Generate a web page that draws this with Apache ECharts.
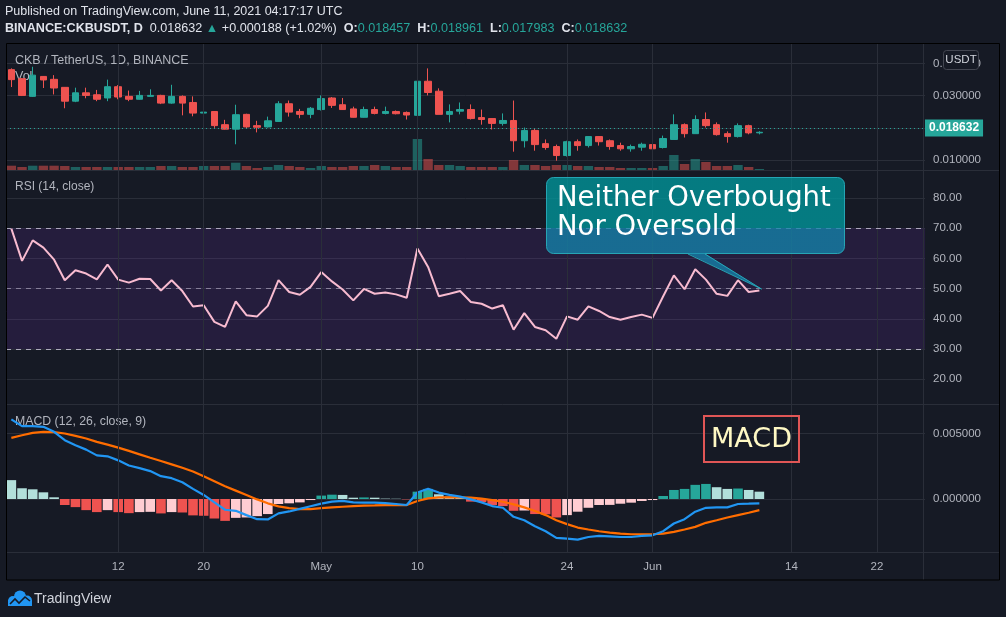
<!DOCTYPE html>
<html><head><meta charset="utf-8">
<script src="https://cdn.jsdelivr.net/npm/echarts/dist/echarts.min.js"></script>
<style>html,body{margin:0;padding:0;background:#161a25;}#c{width:1006px;height:617px;}</style>
</head><body><div id="c"></div><script>
// ---------- data ----------
const startDate = [2021, 3, 2];           // 2021-04-02 (UTC)
const dayCount = 86;                      // visible days on the time scale
const tickLabels = [['2021-04-12','12'],['2021-04-20','20'],['2021-05-01','May'],['2021-05-10','10'],
                    ['2021-05-24','24'],['2021-06-01','Jun'],['2021-06-14','14'],['2021-06-22','22']];
const open  = [0.0381,0.0353,0.0298,0.0360,0.0351,0.0326,0.0283,0.0309,0.0303,0.0293,
               0.0328,0.0298,0.0289,0.0298,0.0301,0.0277,0.0298,0.0279,0.0246,0.0251,
               0.0210,0.0196,0.0242,0.0207,0.0203,0.0220,0.0275,0.0251,0.0242,0.0257,
               0.0293,0.0272,0.0259,0.0233,0.0257,0.0245,0.0251,0.0248,0.0239,0.0345,
               0.0314,0.0242,0.0252,0.0257,0.0232,0.0229,0.0214,0.0223,0.0160,0.0192,
               0.0151,0.0142,0.0114,0.0157,0.0145,0.0173,0.0160,0.0145,0.0135,0.0140,
               0.0148,0.0139,0.0164,0.0210,0.0182,0.0226,0.0210,0.0182,0.0173,0.0207,0.018457];
const close = [0.0350,0.0301,0.0364,0.0349,0.0324,0.0283,0.0309,0.0301,0.0289,0.0328,
               0.0296,0.0289,0.0301,0.0301,0.0277,0.0298,0.0277,0.0246,0.0249,0.0207,
               0.0196,0.0241,0.0203,0.0202,0.0222,0.0275,0.0249,0.0242,0.0261,0.0291,
               0.0270,0.0257,0.0233,0.0257,0.0245,0.0251,0.0244,0.0240,0.0345,0.0310,
               0.0242,0.0251,0.0257,0.0229,0.0226,0.0214,0.0223,0.0160,0.0192,0.0148,
               0.0139,0.0114,0.0157,0.0145,0.0173,0.0157,0.0142,0.0135,0.0142,0.0149,
               0.0135,0.0167,0.0210,0.0182,0.0226,0.0207,0.0179,0.0173,0.0207,0.018444,0.018632];
const low   = [0.0327,0.0299,0.0296,0.0324,0.0304,0.0261,0.0280,0.0292,0.0283,0.0283,
               0.0289,0.0283,0.0288,0.0297,0.0274,0.0275,0.0239,0.0236,0.0200,0.0200,
               0.0195,0.0149,0.0199,0.0186,0.0201,0.0219,0.0235,0.0230,0.0230,0.0254,
               0.0262,0.0256,0.0232,0.0232,0.0242,0.0242,0.0242,0.0226,0.0227,0.0301,
               0.0242,0.0217,0.0242,0.0226,0.0210,0.0195,0.0207,0.0126,0.0139,0.0129,
               0.0132,0.0098,0.0111,0.0129,0.0139,0.0145,0.0132,0.0129,0.0126,0.0129,
               0.0134,0.0136,0.0164,0.0170,0.0182,0.0201,0.0176,0.0154,0.0170,0.0180,0.017983];
const high  = [0.0385,0.0355,0.0390,0.0361,0.0364,0.0327,0.0325,0.0325,0.0318,0.0350,
               0.0333,0.0316,0.0315,0.0320,0.0303,0.0334,0.0301,0.0298,0.0250,0.0252,
               0.0225,0.0272,0.0244,0.0222,0.0235,0.0283,0.0285,0.0259,0.0265,0.0301,
               0.0296,0.0293,0.0266,0.0266,0.0266,0.0266,0.0254,0.0251,0.0420,0.0385,
               0.0323,0.0273,0.0279,0.0273,0.0257,0.0230,0.0245,0.0285,0.0201,0.0198,
               0.0164,0.0148,0.0160,0.0164,0.0174,0.0174,0.0164,0.0154,0.0148,0.0154,
               0.0149,0.0176,0.0242,0.0214,0.0239,0.0248,0.0217,0.0189,0.0214,0.0210,0.018961];
const volume = [43,30,43,43,43,40,30,30,30,30, 30,30,30,30,40,40,30,30,40,40,
                40,73,40,20,30,50,40,30,20,40, 30,30,40,40,50,40,30,30,310,110,
                50,50,40,30,30,30,30,100,50,50, 40,50,50,40,40,30,30,20,20,20,
                20,40,150,60,110,80,40,40,50,30,10];
const rsi = [69.9,59.2,66,63.6,59.6,52.8,56.1,55,53.1,58, 53,52,53.3,53.2,49.4,52.8,49.2,44.1,44.5,39,
             37.3,45.8,41.2,40.8,44.3,52.8,48.9,48,50.6,55.5, 52.4,49.7,46.1,49.9,48.3,48.7,48.1,47,63.3,57.2,
             47.5,48.3,49.2,45.6,45,43.4,44.5,36.4,41.9,37.3, 36.2,33.4,40.8,39.7,44.1,42.6,40.6,39.7,40.6,41.4,
             40.3,47.5,54.4,49.8,56.4,53,48.3,47.6,52.8,48.9,49.4];
// MACD values in units of 0.001
const macd = [6.08,5.56,5.56,5.51,5.13,4.49,4.10,3.77,3.33,3.26, 2.95,2.56,2.36,2.13,1.74,1.59,1.28,0.77,0.31,-0.26,
              -0.82,-0.90,-1.23,-1.54,-1.56,-1.10,-0.95,-0.75,-0.55,-0.35, -0.20,-0.15,-0.26,-0.28,-0.28,-0.31,-0.38,-0.46,0.50,0.78,
              0.49,0.31,0.18,-0.03,-0.26,-0.54,-0.67,-1.36,-1.62,-2.08, -2.46,-2.97,-3.03,-3.10,-2.90,-2.82,-2.85,-2.90,-2.90,-2.82,
              -2.77,-2.46,-1.87,-1.54,-0.97,-0.67,-0.64,-0.64,-0.38,-0.36,-0.33];
const signal = [4.67,4.87,5.05,5.13,5.10,5.00,4.82,4.62,4.36,4.15, 3.92,3.67,3.41,3.15,2.90,2.64,2.38,2.10,1.74,1.36,
                0.97,0.64,0.31,-0.03,-0.33,-0.56,-0.69,-0.77,-0.77,-0.69, -0.64,-0.59,-0.54,-0.51,-0.49,-0.46,-0.46,-0.46,-0.15,0.05,
                0.13,0.13,0.13,0.10,0.03,-0.08,-0.21,-0.41,-0.64,-0.92, -1.23,-1.62,-1.92,-2.18,-2.33,-2.46,-2.56,-2.64,-2.69,-2.69,
                -2.69,-2.64,-2.51,-2.33,-2.13,-1.82,-1.62,-1.41,-1.23,-1.05,-0.85];
const hist = [1.44,0.82,0.74,0.51,0.13,-0.46,-0.62,-0.85,-1.00,-0.85, -1.00,-1.08,-1.00,-0.98,-1.10,-1.00,-1.03,-1.25,-1.28,-1.49,
              -1.67,-1.44,-1.41,-1.31,-1.15,-0.38,-0.33,-0.26,-0.08,0.26, 0.33,0.31,0.10,0.12,0.10,0.03,0.02,-0.03,0.56,0.77,
              0.36,0.18,0.13,-0.20,-0.23,-0.46,-0.54,-0.90,-0.88,-1.15, -1.17,-1.41,-1.23,-0.97,-0.67,-0.46,-0.45,-0.36,-0.28,-0.15,
              -0.08,0.23,0.69,0.77,1.08,1.15,0.90,0.77,0.80,0.69,0.56];
const lastPrice = 0.018632;
const rsiLevels = [70, 50, 30];

// ---------- derived ----------
const dates = [];
(function(){ const d0 = Date.UTC(startDate[0], startDate[1], startDate[2]);
  for (let i = 0; i < dayCount; i++) dates.push(new Date(d0 + i*864e5).toISOString().slice(0,10)); })();
const tickMap = new Map(tickLabels);
const candleData = open.map((o,i)=>[o, close[i], low[i], high[i]]);
const volData = volume.map((v,i)=>({value:v, itemStyle:{color: close[i]>=open[i] ? 'rgba(38,166,154,0.5)' : 'rgba(239,83,80,0.5)'}}));
const histData = hist.map((h,i)=>{ const p = i>0 ? hist[i-1] : h+1; let c;
  if (h >= 0) c = h > p ? '#26a69a' : '#b2dfdb'; else c = h < p ? '#ef5350' : '#ffcdd2';
  return {value: h/1000, itemStyle:{color:c}}; });

const BG = '#161a25', GRID = '#2a2e39', TXT = '#b2b5be';
const L = 6, W = 919;
const fmt6 = v => Math.abs(v) < 1e-12 ? '0.000000' : v.toFixed(6);
const hiddenX = i => ({type:'category', gridIndex:i, data:dates, boundaryGap:true, show:false});
const valueY = (i, min, max, interval, f) => ({type:'value', gridIndex:i, position:'right', min, max, interval,
  axisLine:{show:false}, axisTick:{show:false},
  axisLabel:{color:TXT, fontSize:11.5, margin:8, formatter:f, showMinLabel:false, showMaxLabel:false},
  splitLine:{show:true, showMinLine:false, showMaxLine:false, lineStyle:{color:GRID, width:1}}});

const chart = echarts.init(document.getElementById('c'), null, {renderer:'canvas'});
chart.setOption({
  animation:false,
  backgroundColor:BG,
  textStyle:{fontFamily:'Liberation Sans'},
  grid:[
    {left:L, width:W, top:44, height:508},
    {left:L, width:W, top:31.4, height:160.8},
    {left:L, width:W, top:45, height:125},
    {left:L, width:W, top:167.95, height:241.4},
    {left:L, width:W, top:368, height:196.5}
  ],
  xAxis:[
    {type:'category', gridIndex:0, data:dates, boundaryGap:true,
     axisLine:{show:false}, axisTick:{show:false}, splitLine:{show:false},
     axisLabel:{color:TXT, fontSize:11.5, margin:9, interval:(idx,val)=>tickMap.has(val), formatter:v=>tickMap.get(v)||''}},
    hiddenX(1), hiddenX(2), hiddenX(3), hiddenX(4)
  ],
  yAxis:[
    {type:'value', gridIndex:0, show:false, min:0, max:1},
    valueY(1, 0, 0.05, 0.01, fmt6),
    {type:'value', gridIndex:2, show:false, min:0, max:1250},
    valueY(3, 10, 90, 10, v=>v.toFixed(2)),
    valueY(4, -0.005, 0.01, 0.005, fmt6)
  ],
  series:[
    {type:'line', xAxisIndex:0, yAxisIndex:0, data:dates.map(()=>0.5), showSymbol:false, silent:true,
     lineStyle:{opacity:0}, z:0,
     markLine:{silent:true, symbol:['none','none'], label:{show:false},
       lineStyle:{color:GRID, type:'solid', width:1},
       data: tickLabels.map(t=>({xAxis:t[0]}))}},
    {type:'bar', xAxisIndex:2, yAxisIndex:2, data:volData, barWidth:'88%', z:1, silent:true},
    {type:'candlestick', xAxisIndex:1, yAxisIndex:1, data:candleData, barWidth:7, z:3,
     itemStyle:{color:'#26a69a', color0:'#ef5350', borderColor:'#26a69a', borderColor0:'#ef5350', borderWidth:1},
     markLine:{silent:true, symbol:['none','none'],
       lineStyle:{color:'#26a69a', type:[1,3], width:1},
       label:{show:true, position:'end', distance:0, formatter:()=>lastPrice.toFixed(6),
              backgroundColor:'#26a69a', color:'#ffffff', fontWeight:'bold', fontSize:12, padding:[3,4,2,4]},
       data:[{yAxis:lastPrice}]}},
    {type:'line', xAxisIndex:3, yAxisIndex:3, data:rsi, showSymbol:false, z:3,
     lineStyle:{color:'#f8bbd0', width:2}, itemStyle:{color:'#f8bbd0'},
     markArea:{silent:true, itemStyle:{color:'rgba(130,50,200,0.15)'}, data:[[{yAxis:30},{yAxis:70}]]},
     markLine:{silent:true, symbol:['none','none'], label:{show:false},
       data: rsiLevels.map(v=>({yAxis:v, lineStyle:{color: v===50 ? 'rgba(200,195,215,0.55)' : 'rgba(205,200,220,0.8)', type:[5,5], width:1}}))}},
    {type:'bar', xAxisIndex:4, yAxisIndex:4, data:histData, barWidth:'90%', z:2, silent:true},
    {type:'line', xAxisIndex:4, yAxisIndex:4, data:signal.map(v=>v/1000), showSymbol:false, z:3,
     lineStyle:{color:'#ff6d00', width:2.2}},
    {type:'line', xAxisIndex:4, yAxisIndex:4, data:macd.map(v=>v/1000), showSymbol:false, z:4,
     lineStyle:{color:'#2196f3', width:2.2}}
  ],
  graphic:[
    {type:'text', x:5, y:12, z:50, style:{text:'Published on TradingView.com, June 11, 2021 04:17:17 UTC',
      fill:'#e0e3eb', fontSize:12.5, fontFamily:'Liberation Sans', verticalAlign:'middle'}},
    {type:'text', x:5, y:29, z:50, style:{
      text:'{b|BINANCE:CKBUSDT, D}{n|  0.018632 }{t|▲}{n| +0.000188 (+1.02%)  }{b|O:}{t|0.018457}{b|  H:}{t|0.018961}{b|  L:}{t|0.017983}{b|  C:}{t|0.018632}',
      verticalAlign:'middle', fontSize:12.6, fontFamily:'Liberation Sans',
      rich:{b:{fill:'#e0e3eb', fontWeight:'bold', fontSize:12.6, fontFamily:'Liberation Sans'},
            n:{fill:'#e0e3eb', fontSize:12.6, fontFamily:'Liberation Sans'},
            t:{fill:'#26a69a', fontSize:12.6, fontFamily:'Liberation Sans'}}}},
    // pane separators and frame
    {type:'line', z:40, shape:{x1:6, y1:170.5, x2:999, y2:170.5}, style:{stroke:GRID, lineWidth:1}},
    {type:'line', z:40, shape:{x1:6, y1:404.5, x2:999, y2:404.5}, style:{stroke:GRID, lineWidth:1}},
    {type:'line', z:40, shape:{x1:6, y1:552.5, x2:999, y2:552.5}, style:{stroke:GRID, lineWidth:1}},
    {type:'line', z:40, shape:{x1:923.5, y1:43, x2:923.5, y2:580}, style:{stroke:GRID, lineWidth:1}},
    {type:'rect', z:41, shape:{x:6.5, y:43.5, width:993, height:536.5}, style:{fill:'none', stroke:'#000000', lineWidth:1}},
    // pane titles
    {type:'text', x:15, y:61, z:1, style:{text:'CKB / TetherUS, 1D, BINANCE', fill:'#b2b5be', fontSize:12.5, fontFamily:'Liberation Sans', verticalAlign:'middle'}},
    {type:'text', x:15, y:77, z:1, style:{text:'Vol', fill:'#b2b5be', fontSize:12.5, fontFamily:'Liberation Sans', verticalAlign:'middle'}},
    {type:'text', x:15, y:187, z:1, style:{text:'RSI (14, close)', fill:'#b2b5be', fontSize:12, fontFamily:'Liberation Sans', verticalAlign:'middle'}},
    {type:'text', x:15, y:422, z:1, style:{text:'MACD (12, 26, close, 9)', fill:'#b2b5be', fontSize:12.3, fontFamily:'Liberation Sans', verticalAlign:'middle'}},
    // USDT badge
    {type:'rect', z:60, shape:{x:943.5, y:50.5, width:35, height:19, r:3}, style:{fill:BG, stroke:'#434651', lineWidth:1}},
    {type:'text', x:961, y:60, z:61, style:{text:'USDT', fill:'#d1d4dc', fontSize:11.5, fontFamily:'Liberation Sans', align:'center', verticalAlign:'middle'}},
    // RSI callout
    {type:'rect', z:60, shape:{x:546.5, y:177.5, width:298, height:76, r:7},
     style:{fill:{type:'linear', x:0, y:0, x2:0, y2:1, colorStops:[
        {offset:0, color:'rgba(0,150,155,0.78)'},{offset:0.668, color:'rgba(0,150,155,0.78)'},
        {offset:0.668, color:'rgba(20,130,170,0.78)'},{offset:1, color:'rgba(20,130,170,0.78)'}]},
       stroke:'rgba(40,175,190,0.9)', lineWidth:1}},
    {type:'polygon', z:60, shape:{points:[[688,253.5],[705,253.5],[761.5,289]]}, style:{fill:'rgba(20,130,170,0.78)'}},
    {type:'polyline', z:61, shape:{points:[[688,254],[761.5,289],[705,254]]}, style:{stroke:'rgba(40,175,190,0.9)', lineWidth:1, fill:null}},
    {type:'text', x:557, y:199, z:62, style:{text:'Neither Overbought', fill:'#ffffff', fontSize:27.5, fontFamily:'DejaVu Sans', verticalAlign:'middle'}},
    {type:'text', x:557, y:228, z:62, style:{text:'Nor Oversold', fill:'#ffffff', fontSize:27.5, fontFamily:'DejaVu Sans', verticalAlign:'middle'}},
    // MACD label box
    {type:'rect', z:60, shape:{x:704, y:416, width:95, height:46}, style:{fill:'none', stroke:'#e05656', lineWidth:2}},
    {type:'text', x:751.5, y:439.5, z:61, style:{text:'MACD', fill:'#fff9c4', fontSize:27, fontFamily:'DejaVu Sans', align:'center', verticalAlign:'middle'}},
    // TradingView logo (approximation)
    {type:'circle', z:50, shape:{cx:13, cy:601, r:5}, style:{fill:'#2196f3'}},
    {type:'circle', z:50, shape:{cx:20, cy:596.5, r:6}, style:{fill:'#2196f3'}},
    {type:'circle', z:50, shape:{cx:27, cy:600.5, r:5}, style:{fill:'#2196f3'}},
    {type:'rect', z:50, shape:{x:8, y:600, width:24, height:6}, style:{fill:'#2196f3'}},
    {type:'polyline', z:51, shape:{points:[[10,604],[15,599],[19,603],[25,597],[30,601]]}, style:{stroke:BG, lineWidth:1.6, fill:null}},
    {type:'text', x:34, y:599, z:50, style:{text:'TradingView', fill:'#d1d4dc', fontSize:14, fontFamily:'Liberation Sans', verticalAlign:'middle'}}
  ]
});
</script></body></html>
